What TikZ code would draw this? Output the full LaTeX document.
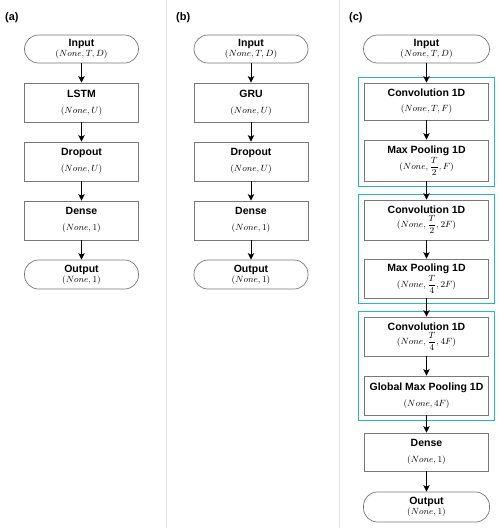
\documentclass[tikz,border=0pt]{standalone}
\usepackage{amsmath}
\usepackage{fontspec}
\newfontfamily\labfont{Liberation Sans}
\usetikzlibrary{arrows.meta,calc}
\definecolor{boxgray}{RGB}{120,120,120}
\definecolor{grpcyan}{RGB}{40,182,196}
\definecolor{divgray}{RGB}{228,228,228}
\newcommand{\ttl}[1]{{\labfont\bfseries\fontsize{10.5}{12}\selectfont #1}}
\begin{document}
\begin{tikzpicture}[x=1pt,y=-1pt,
  blk/.style={draw=boxgray, line width=0.7pt, rectangle, align=center, inner sep=0pt,
    font=\fontsize{9.5}{11}\selectfont},
  term/.style={blk, rounded corners=14pt},
  arr/.style={-{Stealth[length=6.5pt,width=6.5pt,inset=1.5pt]}, line width=1pt, black},
  grp/.style={draw=grpcyan, line width=1.2pt},
  plab/.style={anchor=west, inner sep=0pt, font=\labfont\bfseries\fontsize{11}{13}\selectfont}]
\useasboundingbox (0,0) rectangle (500,528);
\fill[white] (0,0) rectangle (500,528);
% dividers
\draw[divgray, line width=1pt] (166.5,0) -- (166.5,528);
\draw[divgray, line width=1pt] (339.5,0) -- (339.5,528);
% panel labels
\node[plab] (la) at (5,18) {(a)};
\node[plab] (lb) at (176,18) {(b)};
\node[plab] (lc) at (349,18) {(c)};
% panel (a)
\node[term, minimum width=114pt, minimum height=28pt] (ain) at (81.5,49) {\ttl{Input}\\[-1pt]$(None,T,D)$};
\node[blk, minimum width=114pt, minimum height=39pt] (alstm) at (81.5,102.5) {\ttl{LSTM}\\[5pt]$(None,U)$};
\node[blk, minimum width=114pt, minimum height=39pt] (adrop) at (81.5,161.5) {\ttl{Dropout}\\[5pt]$(None,U)$};
\node[blk, minimum width=114pt, minimum height=39pt] (adense) at (81.5,220.5) {\ttl{Dense}\\[5pt]$(None,1)$};
\node[term, minimum width=114pt, minimum height=29pt] (aout) at (81.5,274.5) {\ttl{Output}\\[-1pt]$(None,1)$};
\draw[arr] (ain) -- (alstm);
\draw[arr] (alstm) -- (adrop);
\draw[arr] (adrop) -- (adense);
\draw[arr] (adense) -- (aout);
% panel (b)
\node[term, minimum width=114pt, minimum height=28pt] (bin) at (251,49) {\ttl{Input}\\[-1pt]$(None,T,D)$};
\node[blk, minimum width=114pt, minimum height=39pt] (bgru) at (251,102.5) {\ttl{GRU}\\[5pt]$(None,U)$};
\node[blk, minimum width=114pt, minimum height=39pt] (bdrop) at (251,161.5) {\ttl{Dropout}\\[5pt]$(None,U)$};
\node[blk, minimum width=114pt, minimum height=39pt] (bdense) at (251,220.5) {\ttl{Dense}\\[5pt]$(None,1)$};
\node[term, minimum width=114pt, minimum height=29pt] (bout) at (251,274.5) {\ttl{Output}\\[-1pt]$(None,1)$};
\draw[arr] (bin) -- (bgru);
\draw[arr] (bgru) -- (bdrop);
\draw[arr] (bdrop) -- (bdense);
\draw[arr] (bdense) -- (bout);
% panel (c)
\node[term, minimum width=126pt, minimum height=28pt] (cin) at (426.5,49) {\ttl{Input}\\[-1pt]$(None,T,D)$};
\node[blk, minimum width=124pt, minimum height=37pt] (cconv1) at (426.5,101.5) {\ttl{Convolution 1D}\\[4pt]$(None,T,F)$};
\node[blk, minimum width=124pt, minimum height=41pt] (cmp1) at (426.5,160.5) {\ttl{Max Pooling 1D}\\[1pt]$(None,\dfrac{T}{2},F)$};
\node[blk, minimum width=124pt, minimum height=40pt] (cconv2) at (426.5,220) {\ttl{Convolution 1D}\\[1pt]$(None,\dfrac{T}{2},2F)$};
\node[blk, minimum width=124pt, minimum height=39pt] (cmp2) at (426.5,278.5) {\ttl{Max Pooling 1D}\\[1pt]$(None,\dfrac{T}{4},2F)$};
\node[blk, minimum width=124pt, minimum height=39pt] (cconv3) at (426.5,336.5) {\ttl{Convolution 1D}\\[1pt]$(None,\dfrac{T}{4},4F)$};
\node[blk, minimum width=124pt, minimum height=39pt] (cgmp) at (426.5,395.5) {\ttl{Global Max Pooling 1D}\\[5pt]$(None,4F)$};
\node[blk, minimum width=124pt, minimum height=38pt] (cdense) at (426.5,452) {\ttl{Dense}\\[5pt]$(None,1)$};
\node[term, minimum width=126pt, minimum height=30pt] (cout) at (426.5,507) {\ttl{Output}\\[-1pt]$(None,1)$};
\draw[grp] ($(cconv1.north west)+(-6,-5.5)$) rectangle ($(cmp1.south east)+(6,5.5)$);
\draw[grp] ($(cconv2.north west)+(-6,-5.5)$) rectangle ($(cmp2.south east)+(6,5.5)$);
\draw[grp] ($(cconv3.north west)+(-6,-5.5)$) rectangle ($(cgmp.south east)+(6,5.5)$);
\draw[arr] (cin) -- (cconv1);
\draw[arr] (cconv1) -- (cmp1);
\draw[arr] (cmp1) -- (cconv2);
\draw[arr] (cconv2) -- (cmp2);
\draw[arr] (cmp2) -- (cconv3);
\draw[arr] (cconv3) -- (cgmp);
\draw[arr] (cgmp) -- (cdense);
\draw[arr] (cdense) -- (cout);
\end{tikzpicture}
\end{document}
